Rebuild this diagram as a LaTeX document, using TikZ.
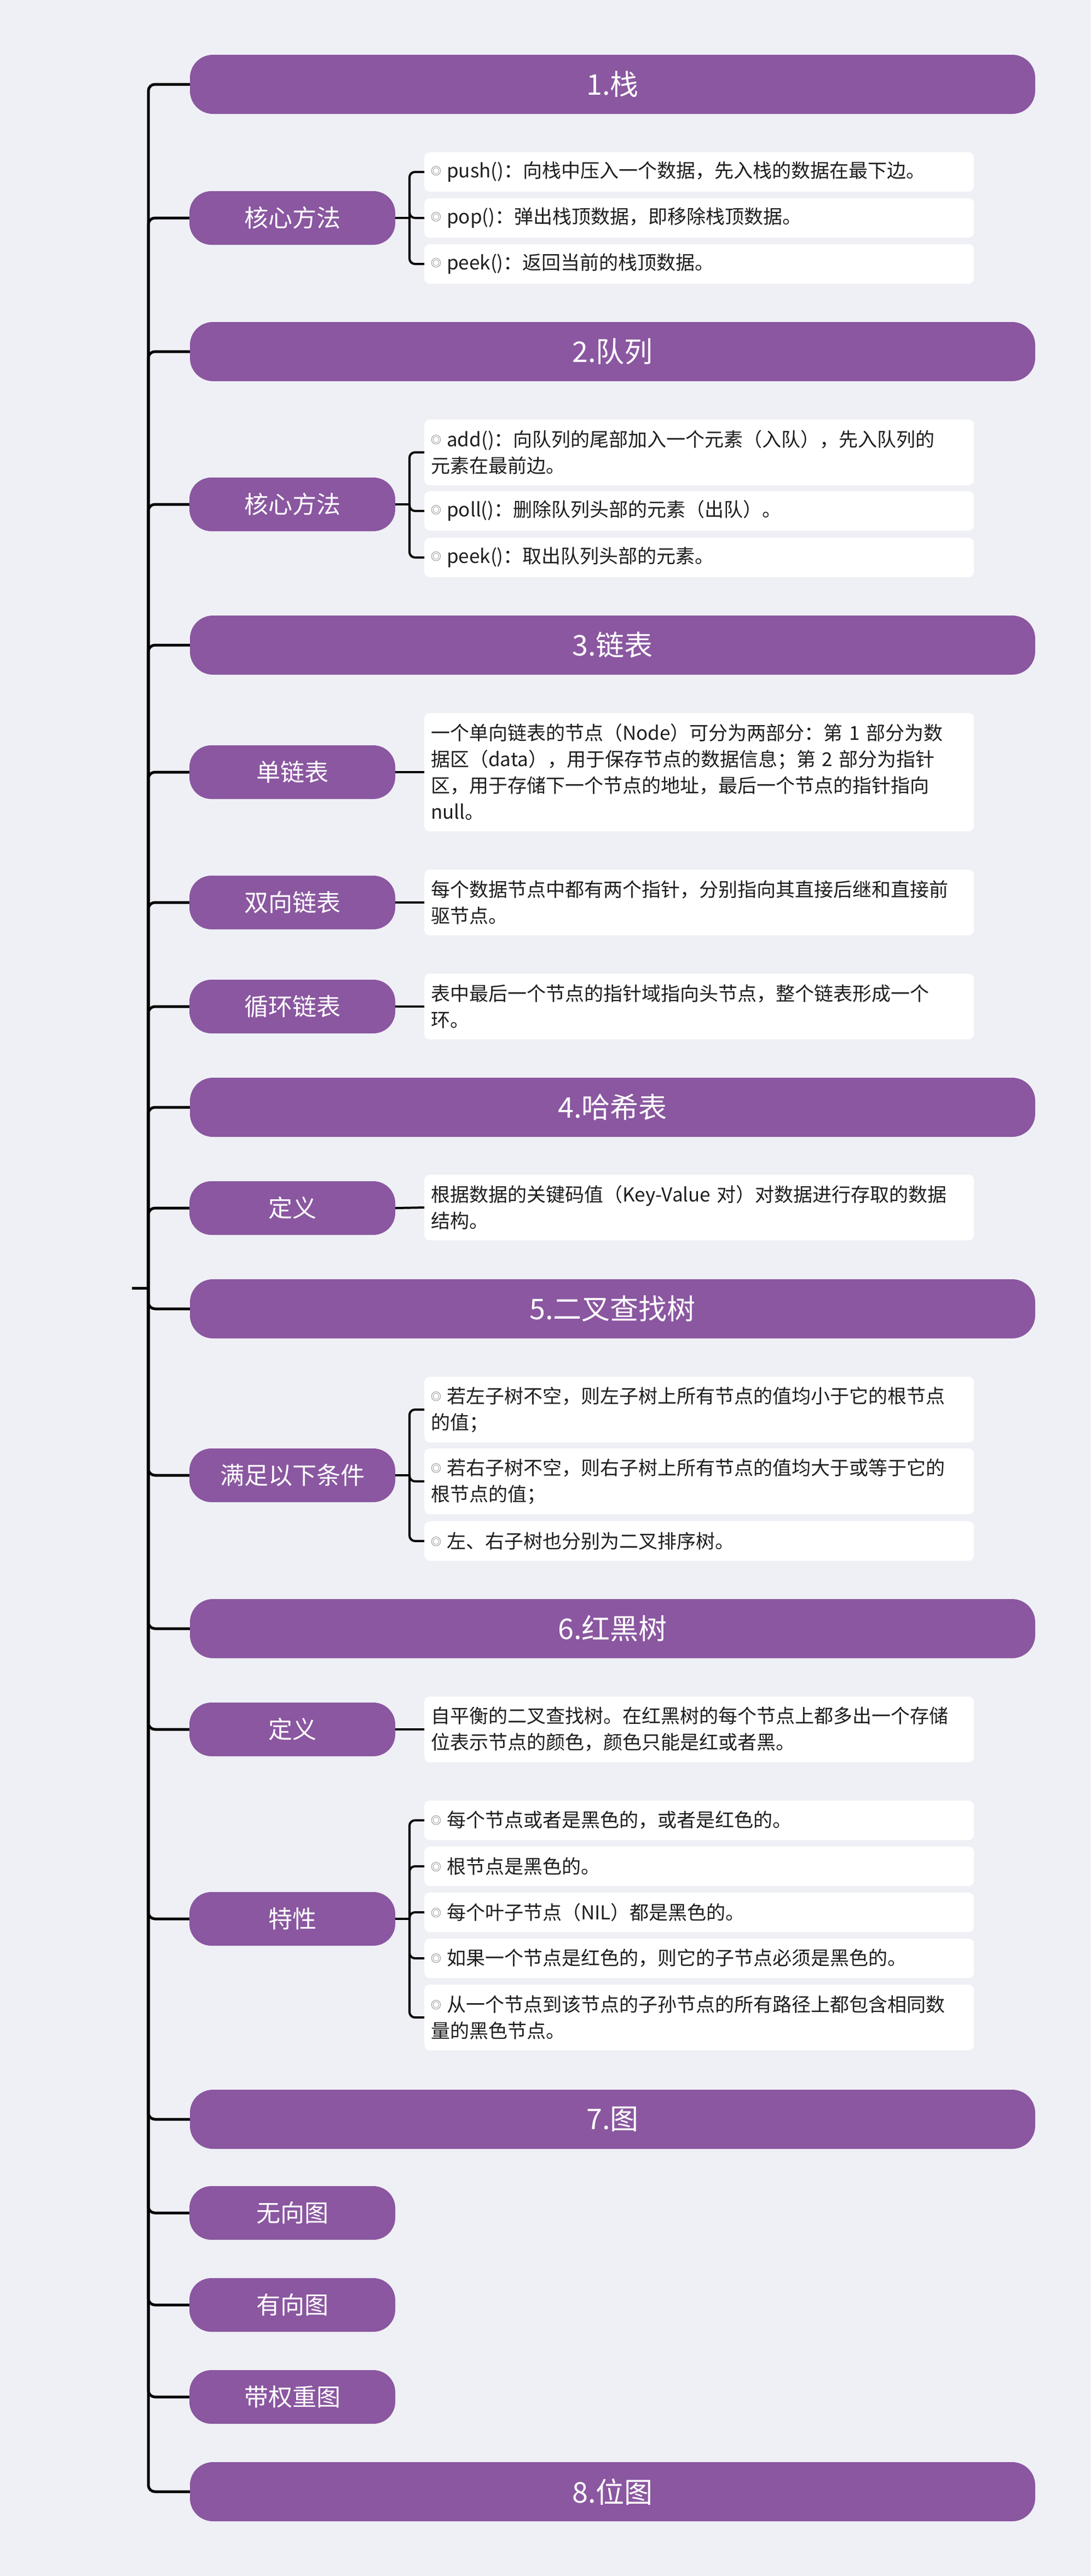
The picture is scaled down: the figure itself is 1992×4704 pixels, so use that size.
\documentclass[tikz,border=0pt]{standalone}
\usepackage{fontspec}
\setmainfont{Noto Sans CJK SC}
\definecolor{bg}{RGB}{239,240,245}
\definecolor{plum}{RGB}{138,87,160}
\definecolor{ink}{RGB}{30,30,30}
\definecolor{dotgray}{RGB}{110,110,110}
\newcommand{\bul}{\raisebox{5pt}{\color{dotgray}\fontsize{19pt}{19pt}\selectfont ◎}\hspace{10pt}}
\begin{document}
\begin{tikzpicture}[x=1pt,y=-1pt,
    topic/.style={fill=plum,text=white,rounded corners=42pt,minimum width=1544pt,minimum height=108pt,font=\fontsize{52pt}{60pt}\selectfont},
    subtopic/.style={fill=plum,text=white,rounded corners=40pt,minimum width=376pt,minimum height=98pt,font=\fontsize{44pt}{52pt}\selectfont},
    leaf/.style={fill=white,text=ink,rounded corners=10pt,anchor=west,text width=980pt,inner xsep=12pt,inner ysep=0pt,align=left,minimum height=72pt,font=\fontsize{35pt}{48pt}\selectfont},
    trunk/.style={draw=black,line width=5pt,rounded corners=12pt},
    twig/.style={draw=black,line width=4pt,rounded corners=10pt}]
        \fill[bg] (0,0) rectangle (1992,4704);      % page
        \useasboundingbox (0,0) rectangle (1992,4704);

        % topics
        \node[topic] (t1) at (1119,154) {1.栈};
        \node[topic] (t2) at (1119,642) {2.队列};
        \node[topic] (t3) at (1119,1178) {3.链表};
        \node[topic] (t4) at (1119,2022) {4.哈希表};
        \node[topic] (t5) at (1119,2390) {5.二叉查找树};
        \node[topic] (t6) at (1119,2974) {6.红黑树};
        \node[topic] (t7) at (1119,3870) {7.图};
        \node[topic] (t8) at (1119,4550) {8.位图};

        % sub topics
        \node[subtopic] (s1) at (534,398) {核心方法};
        \node[subtopic] (s2) at (534,921) {核心方法};
        \node[subtopic] (s3a) at (534,1410) {单链表};
        \node[subtopic] (s3b) at (534,1648) {双向链表};
        \node[subtopic] (s3c) at (534,1838) {循环链表};
        \node[subtopic] (s4) at (534,2206) {定义};
        \node[subtopic] (s5) at (534,2694) {满足以下条件};
        \node[subtopic] (s6a) at (534,3158) {定义};
        \node[subtopic] (s6b) at (534,3504) {特性};
        \node[subtopic] (s7a) at (534,4041) {无向图};
        \node[subtopic] (s7b) at (534,4209) {有向图};
        \node[subtopic] (s7c) at (534,4377) {带权重图};

        % leaves
        \node[leaf] (l11) at (775,314) {\bul push()：向栈中压入一个数据，先入栈的数据在最下边。};
        \node[leaf] (l12) at (775,398) {\bul pop()：弹出栈顶数据，即移除栈顶数据。};
        \node[leaf] (l13) at (775,482) {\bul peek()：返回当前的栈顶数据。};

        \node[leaf,minimum height=120pt] (l21) at (775,826) {\bul add()：向队列的尾部加入一个元素（入队），先入队列的\\元素在最前边。};
        \node[leaf] (l22) at (775,933) {\bul poll()：删除队列头部的元素（出队）。};
        \node[leaf] (l23) at (775,1018) {\bul peek()：取出队列头部的元素。};

        \node[leaf,minimum height=216pt] (l3a) at (775,1410) {一个单向链表的节点（Node）可分为两部分：第 1 部分为数\\据区（data），用于保存节点的数据信息；第 2 部分为指针\\区，用于存储下一个节点的地址，最后一个节点的指针指向\\null。};
        \node[leaf,minimum height=120pt] (l3b) at (775,1648) {每个数据节点中都有两个指针，分别指向其直接后继和直接前\\驱节点。};
        \node[leaf,minimum height=120pt] (l3c) at (775,1838) {表中最后一个节点的指针域指向头节点，整个链表形成一个\\环。};

        \node[leaf,minimum height=120pt] (l4) at (775,2205) {根据数据的关键码值（Key-Value 对）对数据进行存取的数据\\结构。};

        \node[leaf,minimum height=120pt] (l51) at (775,2574) {\bul 若左子树不空，则左子树上所有节点的值均小于它的根节点\\的值；};
        \node[leaf,minimum height=120pt] (l52) at (775,2705) {\bul 若右子树不空，则右子树上所有节点的值均大于或等于它的\\根节点的值；};
        \node[leaf] (l53) at (775,2814) {\bul 左、右子树也分别为二叉排序树。};

        \node[leaf,minimum height=120pt] (l6a) at (775,3158) {自平衡的二叉查找树。在红黑树的每个节点上都多出一个存储\\位表示节点的颜色，颜色只能是红或者黑。};
        \node[leaf] (l61) at (775,3324) {\bul 每个节点或者是黑色的，或者是红色的。};
        \node[leaf] (l62) at (775,3408) {\bul 根节点是黑色的。};
        \node[leaf] (l63) at (775,3492) {\bul 每个叶子节点（NIL）都是黑色的。};
        \node[leaf] (l64) at (775,3576) {\bul 如果一个节点是红色的，则它的子节点必须是黑色的。};
        \node[leaf,minimum height=120pt] (l65) at (775,3684) {\bul 从一个节点到该节点的子孙节点的所有路径上都包含相同数\\量的黑色节点。};

        % trunk
        \coordinate (root) at (241,2352);
        \coordinate (hub) at (271,2352);
        \draw[trunk] (root) -- (hub);
        \draw[trunk] (hub) |- (t1.west);
        \draw[trunk] (hub) |- (s1.west);
        \draw[trunk] (hub) |- (t2.west);
        \draw[trunk] (hub) |- (s2.west);
        \draw[trunk] (hub) |- (t3.west);
        \draw[trunk] (hub) |- (s3a.west);
        \draw[trunk] (hub) |- (s3b.west);
        \draw[trunk] (hub) |- (s3c.west);
        \draw[trunk] (hub) |- (t4.west);
        \draw[trunk] (hub) |- (s4.west);
        \draw[trunk] (hub) |- (t5.west);
        \draw[trunk] (hub) |- (s5.west);
        \draw[trunk] (hub) |- (t6.west);
        \draw[trunk] (hub) |- (s6a.west);
        \draw[trunk] (hub) |- (s6b.west);
        \draw[trunk] (hub) |- (t7.west);
        \draw[trunk] (hub) |- (s7a.west);
        \draw[trunk] (hub) |- (s7b.west);
        \draw[trunk] (hub) |- (s7c.west);
        \draw[trunk] (hub) |- (t8.west);

        % twigs
        \coordinate (j1) at (748,398);
        \draw[twig] (s1.east) -- (j1);
        \draw[twig] (j1) |- (l11.west);
        \draw[twig] (j1) |- (l12.west);
        \draw[twig] (j1) |- (l13.west);
        \coordinate (j2) at (748,921);
        \draw[twig] (s2.east) -- (j2);
        \draw[twig] (j2) |- (l21.west);
        \draw[twig] (j2) |- (l22.west);
        \draw[twig] (j2) |- (l23.west);
        \draw[twig] (s3a.east) -- (l3a.west);
        \draw[twig] (s3b.east) -- (l3b.west);
        \draw[twig] (s3c.east) -- (l3c.west);
        \draw[twig] (s4.east) -- (l4.west);
        \coordinate (j5) at (748,2694);
        \draw[twig] (s5.east) -- (j5);
        \draw[twig] (j5) |- (l51.west);
        \draw[twig] (j5) |- (l52.west);
        \draw[twig] (j5) |- (l53.west);
        \draw[twig] (s6a.east) -- (l6a.west);
        \coordinate (j6) at (748,3504);
        \draw[twig] (s6b.east) -- (j6);
        \draw[twig] (j6) |- (l61.west);
        \draw[twig] (j6) |- (l62.west);
        \draw[twig] (j6) |- (l63.west);
        \draw[twig] (j6) |- (l64.west);
        \draw[twig] (j6) |- (l65.west);
\end{tikzpicture}
\end{document}
